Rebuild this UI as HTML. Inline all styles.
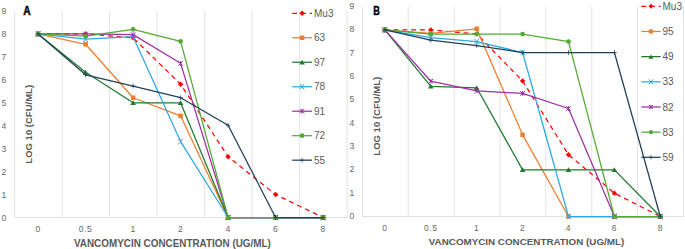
<!DOCTYPE html>
<html><head><meta charset="utf-8"><style>
html,body{margin:0;padding:0;background:#fff;width:685px;height:249px;overflow:hidden}
svg{display:block}
text{font-family:"Liberation Sans", sans-serif}
</style></head><body>
<svg width="685" height="249" viewBox="0 0 685 249">
<rect width="685" height="249" fill="#fff"/>
<line x1="14.70" y1="11.00" x2="14.70" y2="217.50" stroke="#E3E3E3" stroke-width="1"/>
<line x1="62.20" y1="11.00" x2="62.20" y2="217.50" stroke="#E3E3E3" stroke-width="1"/>
<line x1="109.70" y1="11.00" x2="109.70" y2="217.50" stroke="#E3E3E3" stroke-width="1"/>
<line x1="157.20" y1="11.00" x2="157.20" y2="217.50" stroke="#E3E3E3" stroke-width="1"/>
<line x1="204.70" y1="11.00" x2="204.70" y2="217.50" stroke="#E3E3E3" stroke-width="1"/>
<line x1="252.20" y1="11.00" x2="252.20" y2="217.50" stroke="#E3E3E3" stroke-width="1"/>
<line x1="299.70" y1="11.00" x2="299.70" y2="217.50" stroke="#E3E3E3" stroke-width="1"/>
<line x1="347.20" y1="11.00" x2="347.20" y2="217.50" stroke="#E3E3E3" stroke-width="1"/>
<line x1="14.20" y1="217.50" x2="347.70" y2="217.50" stroke="#E3E3E3" stroke-width="1"/>
<text x="3.80" y="220.50" text-anchor="middle" font-size="8.5" fill="#666666">0</text>
<text x="3.80" y="197.56" text-anchor="middle" font-size="8.5" fill="#666666">1</text>
<text x="3.80" y="174.61" text-anchor="middle" font-size="8.5" fill="#666666">2</text>
<text x="3.80" y="151.67" text-anchor="middle" font-size="8.5" fill="#666666">3</text>
<text x="3.80" y="128.72" text-anchor="middle" font-size="8.5" fill="#666666">4</text>
<text x="3.80" y="105.78" text-anchor="middle" font-size="8.5" fill="#666666">5</text>
<text x="3.80" y="82.83" text-anchor="middle" font-size="8.5" fill="#666666">6</text>
<text x="3.80" y="59.89" text-anchor="middle" font-size="8.5" fill="#666666">7</text>
<text x="3.80" y="36.94" text-anchor="middle" font-size="8.5" fill="#666666">8</text>
<text x="3.80" y="14.00" text-anchor="middle" font-size="8.5" fill="#666666">9</text>
<text x="38.10" y="231.50" text-anchor="middle" font-size="8.5" fill="#666666" letter-spacing="0.6">0</text>
<text x="85.60" y="231.50" text-anchor="middle" font-size="8.5" fill="#666666" letter-spacing="0.6">0.5</text>
<text x="133.10" y="231.50" text-anchor="middle" font-size="8.5" fill="#666666" letter-spacing="0.6">1</text>
<text x="180.60" y="231.50" text-anchor="middle" font-size="8.5" fill="#666666" letter-spacing="0.6">2</text>
<text x="228.10" y="231.50" text-anchor="middle" font-size="8.5" fill="#666666" letter-spacing="0.6">4</text>
<text x="275.60" y="231.50" text-anchor="middle" font-size="8.5" fill="#666666" letter-spacing="0.6">6</text>
<text x="323.10" y="231.50" text-anchor="middle" font-size="8.5" fill="#666666" letter-spacing="0.6">8</text>
<text x="172.40" y="246.80" text-anchor="middle" font-size="10" font-weight="bold" fill="#595959" textLength="197" lengthAdjust="spacingAndGlyphs">VANCOMYCIN CONCENTRATION (UG/ML)</text>
<text transform="translate(31.90,124.30) rotate(-90)" text-anchor="middle" font-size="9.2" font-weight="bold" fill="#595959" textLength="78.7" lengthAdjust="spacingAndGlyphs">LOG 10 (CFU/ML)</text>
<text x="23.30" y="14.80" font-size="12.5" font-weight="bold" fill="#000" stroke="#000" stroke-width="0.45" textLength="7.4" lengthAdjust="spacingAndGlyphs">A</text>
<polyline points="38.10,33.94 85.60,33.94 133.10,37.84 180.60,84.19 228.10,156.70 275.60,194.56 323.10,217.50" fill="none" stroke="#FF0000" stroke-width="1.25" stroke-linejoin="round" stroke-dasharray="4.8,3.96"/>
<path d="M38.10 31.24L40.80 33.94L38.10 36.64L35.40 33.94Z" fill="#FF0000"/>
<path d="M85.60 31.24L88.30 33.94L85.60 36.64L82.90 33.94Z" fill="#FF0000"/>
<path d="M133.10 35.14L135.80 37.84L133.10 40.55L130.40 37.84Z" fill="#FF0000"/>
<path d="M180.60 81.49L183.30 84.19L180.60 86.89L177.90 84.19Z" fill="#FF0000"/>
<path d="M228.10 154.00L230.80 156.70L228.10 159.40L225.40 156.70Z" fill="#FF0000"/>
<path d="M275.60 191.86L278.30 194.56L275.60 197.26L272.90 194.56Z" fill="#FF0000"/>
<path d="M323.10 214.80L325.80 217.50L323.10 220.20L320.40 217.50Z" fill="#FF0000"/>
<polyline points="38.10,33.94 85.60,44.27 133.10,97.73 180.60,115.86 228.10,217.50 275.60,217.50 323.10,217.50" fill="none" stroke="#ED7D31" stroke-width="1.25" stroke-linejoin="round"/>
<rect x="35.85" y="31.69" width="4.50" height="4.50" fill="#ED7D31"/>
<rect x="83.35" y="42.02" width="4.50" height="4.50" fill="#ED7D31"/>
<rect x="130.85" y="95.48" width="4.50" height="4.50" fill="#ED7D31"/>
<rect x="178.35" y="113.61" width="4.50" height="4.50" fill="#ED7D31"/>
<rect x="225.85" y="215.25" width="4.50" height="4.50" fill="#ED7D31"/>
<rect x="273.35" y="215.25" width="4.50" height="4.50" fill="#ED7D31"/>
<rect x="320.85" y="215.25" width="4.50" height="4.50" fill="#ED7D31"/>
<polyline points="38.10,33.94 85.60,72.26 133.10,102.78 180.60,102.78 228.10,217.50 275.60,217.50 323.10,217.50" fill="none" stroke="#1F7A2C" stroke-width="1.25" stroke-linejoin="round"/>
<path d="M38.10 31.44L40.85 36.19L35.35 36.19Z" fill="#1F7A2C"/>
<path d="M85.60 69.76L88.35 74.51L82.85 74.51Z" fill="#1F7A2C"/>
<path d="M133.10 100.28L135.85 105.03L130.35 105.03Z" fill="#1F7A2C"/>
<path d="M180.60 100.28L183.35 105.03L177.85 105.03Z" fill="#1F7A2C"/>
<path d="M228.10 215.00L230.85 219.75L225.35 219.75Z" fill="#1F7A2C"/>
<path d="M275.60 215.00L278.35 219.75L272.85 219.75Z" fill="#1F7A2C"/>
<path d="M323.10 215.00L325.85 219.75L320.35 219.75Z" fill="#1F7A2C"/>
<polyline points="38.10,33.94 85.60,39.22 133.10,36.70 180.60,141.55 228.10,217.50 275.60,217.50 323.10,217.50" fill="none" stroke="#2CA9E1" stroke-width="1.25" stroke-linejoin="round"/>
<path d="M35.90 31.19L40.30 36.69M40.30 31.19L35.90 36.69" stroke="#2CA9E1" stroke-width="1" fill="none"/>
<path d="M83.40 36.47L87.80 41.97M87.80 36.47L83.40 41.97" stroke="#2CA9E1" stroke-width="1" fill="none"/>
<path d="M130.90 33.95L135.30 39.45M135.30 33.95L130.90 39.45" stroke="#2CA9E1" stroke-width="1" fill="none"/>
<path d="M178.40 138.80L182.80 144.30M182.80 138.80L178.40 144.30" stroke="#2CA9E1" stroke-width="1" fill="none"/>
<path d="M225.90 214.75L230.30 220.25M230.30 214.75L225.90 220.25" stroke="#2CA9E1" stroke-width="1" fill="none"/>
<path d="M273.40 214.75L277.80 220.25M277.80 214.75L273.40 220.25" stroke="#2CA9E1" stroke-width="1" fill="none"/>
<path d="M320.90 214.75L325.30 220.25M325.30 214.75L320.90 220.25" stroke="#2CA9E1" stroke-width="1" fill="none"/>
<polyline points="38.10,33.94 85.60,33.94 133.10,34.63 180.60,63.31 228.10,217.50 275.60,217.50 323.10,217.50" fill="none" stroke="#9E2FA3" stroke-width="1.25" stroke-linejoin="round"/>
<path d="M35.80 31.64L40.40 36.24M40.40 31.64L35.80 36.24M38.10 31.64L38.10 36.24" stroke="#9E2FA3" stroke-width="1" fill="none"/>
<path d="M83.30 31.64L87.90 36.24M87.90 31.64L83.30 36.24M85.60 31.64L85.60 36.24" stroke="#9E2FA3" stroke-width="1" fill="none"/>
<path d="M130.80 32.33L135.40 36.93M135.40 32.33L130.80 36.93M133.10 32.33L133.10 36.93" stroke="#9E2FA3" stroke-width="1" fill="none"/>
<path d="M178.30 61.01L182.90 65.61M182.90 61.01L178.30 65.61M180.60 61.01L180.60 65.61" stroke="#9E2FA3" stroke-width="1" fill="none"/>
<path d="M225.80 215.20L230.40 219.80M230.40 215.20L225.80 219.80M228.10 215.20L228.10 219.80" stroke="#9E2FA3" stroke-width="1" fill="none"/>
<path d="M273.30 215.20L277.90 219.80M277.90 215.20L273.30 219.80M275.60 215.20L275.60 219.80" stroke="#9E2FA3" stroke-width="1" fill="none"/>
<path d="M320.80 215.20L325.40 219.80M325.40 215.20L320.80 219.80M323.10 215.20L323.10 219.80" stroke="#9E2FA3" stroke-width="1" fill="none"/>
<polyline points="38.10,33.94 85.60,36.24 133.10,29.36 180.60,41.29 228.10,217.50 275.60,217.50 323.10,217.50" fill="none" stroke="#52AA35" stroke-width="1.25" stroke-linejoin="round"/>
<circle cx="38.10" cy="33.94" r="2.35" fill="#52AA35"/>
<circle cx="85.60" cy="36.24" r="2.35" fill="#52AA35"/>
<circle cx="133.10" cy="29.36" r="2.35" fill="#52AA35"/>
<circle cx="180.60" cy="41.29" r="2.35" fill="#52AA35"/>
<circle cx="228.10" cy="217.50" r="2.35" fill="#52AA35"/>
<circle cx="275.60" cy="217.50" r="2.35" fill="#52AA35"/>
<circle cx="323.10" cy="217.50" r="2.35" fill="#52AA35"/>
<polyline points="38.10,33.94 85.60,74.79 133.10,86.03 180.60,97.73 228.10,125.26 275.60,217.50 323.10,217.50" fill="none" stroke="#1F3F5A" stroke-width="1.25" stroke-linejoin="round"/>
<path d="M38.10 31.54L38.10 36.34M35.70 33.94L40.50 33.94" stroke="#1F3F5A" stroke-width="1" stroke-opacity="0.75" fill="none"/>
<path d="M85.60 72.39L85.60 77.19M83.20 74.79L88.00 74.79" stroke="#1F3F5A" stroke-width="1" stroke-opacity="0.75" fill="none"/>
<path d="M133.10 83.63L133.10 88.43M130.70 86.03L135.50 86.03" stroke="#1F3F5A" stroke-width="1" stroke-opacity="0.75" fill="none"/>
<path d="M180.60 95.33L180.60 100.13M178.20 97.73L183.00 97.73" stroke="#1F3F5A" stroke-width="1" stroke-opacity="0.75" fill="none"/>
<path d="M228.10 122.86L228.10 127.66M225.70 125.26L230.50 125.26" stroke="#1F3F5A" stroke-width="1" stroke-opacity="0.75" fill="none"/>
<path d="M275.60 215.10L275.60 219.90M273.20 217.50L278.00 217.50" stroke="#1F3F5A" stroke-width="1" stroke-opacity="0.75" fill="none"/>
<path d="M323.10 215.10L323.10 219.90M320.70 217.50L325.50 217.50" stroke="#1F3F5A" stroke-width="1" stroke-opacity="0.75" fill="none"/>
<line x1="292.20" y1="13.30" x2="312.00" y2="13.30" stroke="#FF0000" stroke-width="1.25" stroke-dasharray="4.8,3.96"/>
<path d="M302.10 10.60L304.80 13.30L302.10 16.00L299.40 13.30Z" fill="#FF0000"/>
<text x="314.00" y="16.90" font-size="10" fill="#595959">Mu3</text>
<line x1="292.20" y1="37.78" x2="312.00" y2="37.78" stroke="#ED7D31" stroke-width="1.25"/>
<rect x="299.85" y="35.53" width="4.50" height="4.50" fill="#ED7D31"/>
<text x="314.00" y="41.38" font-size="10" fill="#595959">63</text>
<line x1="292.20" y1="62.26" x2="312.00" y2="62.26" stroke="#1F7A2C" stroke-width="1.25"/>
<path d="M302.10 59.76L304.85 64.51L299.35 64.51Z" fill="#1F7A2C"/>
<text x="314.00" y="65.86" font-size="10" fill="#595959">97</text>
<line x1="292.20" y1="86.74" x2="312.00" y2="86.74" stroke="#2CA9E1" stroke-width="1.25"/>
<path d="M299.90 83.99L304.30 89.49M304.30 83.99L299.90 89.49" stroke="#2CA9E1" stroke-width="1" fill="none"/>
<text x="314.00" y="90.34" font-size="10" fill="#595959">78</text>
<line x1="292.20" y1="111.22" x2="312.00" y2="111.22" stroke="#9E2FA3" stroke-width="1.25"/>
<path d="M299.80 108.92L304.40 113.52M304.40 108.92L299.80 113.52M302.10 108.92L302.10 113.52" stroke="#9E2FA3" stroke-width="1" fill="none"/>
<text x="314.00" y="114.82" font-size="10" fill="#595959">91</text>
<line x1="292.20" y1="135.70" x2="312.00" y2="135.70" stroke="#52AA35" stroke-width="1.25"/>
<circle cx="302.10" cy="135.70" r="2.35" fill="#52AA35"/>
<text x="314.00" y="139.30" font-size="10" fill="#595959">72</text>
<line x1="292.20" y1="160.18" x2="312.00" y2="160.18" stroke="#1F3F5A" stroke-width="1.25"/>
<path d="M302.10 157.78L302.10 162.58M299.70 160.18L304.50 160.18" stroke="#1F3F5A" stroke-width="1" stroke-opacity="0.75" fill="none"/>
<text x="314.00" y="163.78" font-size="10" fill="#595959">55</text>
<line x1="362.30" y1="6.60" x2="362.30" y2="216.50" stroke="#E3E3E3" stroke-width="1"/>
<line x1="408.20" y1="6.60" x2="408.20" y2="216.50" stroke="#E3E3E3" stroke-width="1"/>
<line x1="454.10" y1="6.60" x2="454.10" y2="216.50" stroke="#E3E3E3" stroke-width="1"/>
<line x1="500.00" y1="6.60" x2="500.00" y2="216.50" stroke="#E3E3E3" stroke-width="1"/>
<line x1="545.90" y1="6.60" x2="545.90" y2="216.50" stroke="#E3E3E3" stroke-width="1"/>
<line x1="591.80" y1="6.60" x2="591.80" y2="216.50" stroke="#E3E3E3" stroke-width="1"/>
<line x1="637.70" y1="6.60" x2="637.70" y2="216.50" stroke="#E3E3E3" stroke-width="1"/>
<line x1="683.60" y1="6.60" x2="683.60" y2="216.50" stroke="#E3E3E3" stroke-width="1"/>
<line x1="361.80" y1="216.50" x2="684.10" y2="216.50" stroke="#E3E3E3" stroke-width="1"/>
<text x="351.80" y="218.90" text-anchor="middle" font-size="8.5" fill="#666666">0</text>
<text x="351.80" y="195.58" text-anchor="middle" font-size="8.5" fill="#666666">1</text>
<text x="351.80" y="172.26" text-anchor="middle" font-size="8.5" fill="#666666">2</text>
<text x="351.80" y="148.93" text-anchor="middle" font-size="8.5" fill="#666666">3</text>
<text x="351.80" y="125.61" text-anchor="middle" font-size="8.5" fill="#666666">4</text>
<text x="351.80" y="102.29" text-anchor="middle" font-size="8.5" fill="#666666">5</text>
<text x="351.80" y="78.97" text-anchor="middle" font-size="8.5" fill="#666666">6</text>
<text x="351.80" y="55.64" text-anchor="middle" font-size="8.5" fill="#666666">7</text>
<text x="351.80" y="32.32" text-anchor="middle" font-size="8.5" fill="#666666">8</text>
<text x="351.80" y="9.00" text-anchor="middle" font-size="8.5" fill="#666666">9</text>
<text x="384.90" y="231.00" text-anchor="middle" font-size="8.5" fill="#666666" letter-spacing="0.6">0</text>
<text x="430.80" y="231.00" text-anchor="middle" font-size="8.5" fill="#666666" letter-spacing="0.6">0.5</text>
<text x="476.70" y="231.00" text-anchor="middle" font-size="8.5" fill="#666666" letter-spacing="0.6">1</text>
<text x="522.60" y="231.00" text-anchor="middle" font-size="8.5" fill="#666666" letter-spacing="0.6">2</text>
<text x="568.50" y="231.00" text-anchor="middle" font-size="8.5" fill="#666666" letter-spacing="0.6">4</text>
<text x="614.40" y="231.00" text-anchor="middle" font-size="8.5" fill="#666666" letter-spacing="0.6">6</text>
<text x="660.30" y="231.00" text-anchor="middle" font-size="8.5" fill="#666666" letter-spacing="0.6">8</text>
<text x="526.50" y="245.30" text-anchor="middle" font-size="9.6" font-weight="bold" fill="#595959" textLength="195.4" lengthAdjust="spacingAndGlyphs">VANCOMYCIN CONCENTRATION (UG/ML)</text>
<text transform="translate(380.20,116.20) rotate(-90)" text-anchor="middle" font-size="9.2" font-weight="bold" fill="#595959" textLength="79" lengthAdjust="spacingAndGlyphs">LOG 10 (CFU/ML)</text>
<text x="373.30" y="14.80" font-size="12.5" font-weight="bold" fill="#000" stroke="#000" stroke-width="0.45" textLength="6.6" lengthAdjust="spacingAndGlyphs">B</text>
<polyline points="384.90,29.92 430.80,29.92 476.70,33.89 522.60,81.00 568.50,154.70 614.40,193.18 660.30,216.50" fill="none" stroke="#FF0000" stroke-width="1.25" stroke-linejoin="round" stroke-dasharray="4.8,3.96"/>
<path d="M384.90 27.22L387.60 29.92L384.90 32.62L382.20 29.92Z" fill="#FF0000"/>
<path d="M430.80 27.22L433.50 29.92L430.80 32.62L428.10 29.92Z" fill="#FF0000"/>
<path d="M476.70 31.19L479.40 33.89L476.70 36.59L474.00 33.89Z" fill="#FF0000"/>
<path d="M522.60 78.30L525.30 81.00L522.60 83.70L519.90 81.00Z" fill="#FF0000"/>
<path d="M568.50 152.00L571.20 154.70L568.50 157.40L565.80 154.70Z" fill="#FF0000"/>
<path d="M614.40 190.48L617.10 193.18L614.40 195.88L611.70 193.18Z" fill="#FF0000"/>
<path d="M660.30 213.80L663.00 216.50L660.30 219.20L657.60 216.50Z" fill="#FF0000"/>
<polyline points="384.90,29.92 430.80,33.42 476.70,28.76 522.60,134.87 568.50,216.50 614.40,216.50 660.30,216.50" fill="none" stroke="#ED7D31" stroke-width="1.25" stroke-linejoin="round"/>
<rect x="382.65" y="27.67" width="4.50" height="4.50" fill="#ED7D31"/>
<rect x="428.55" y="31.17" width="4.50" height="4.50" fill="#ED7D31"/>
<rect x="474.45" y="26.51" width="4.50" height="4.50" fill="#ED7D31"/>
<rect x="520.35" y="132.62" width="4.50" height="4.50" fill="#ED7D31"/>
<rect x="566.25" y="214.25" width="4.50" height="4.50" fill="#ED7D31"/>
<rect x="612.15" y="214.25" width="4.50" height="4.50" fill="#ED7D31"/>
<rect x="658.05" y="214.25" width="4.50" height="4.50" fill="#ED7D31"/>
<polyline points="384.90,29.92 430.80,86.36 476.70,87.76 522.60,169.86 568.50,169.86 614.40,169.86 660.30,216.50" fill="none" stroke="#1F7A2C" stroke-width="1.25" stroke-linejoin="round"/>
<path d="M384.90 27.42L387.65 32.17L382.15 32.17Z" fill="#1F7A2C"/>
<path d="M430.80 83.86L433.55 88.61L428.05 88.61Z" fill="#1F7A2C"/>
<path d="M476.70 85.26L479.45 90.01L473.95 90.01Z" fill="#1F7A2C"/>
<path d="M522.60 167.36L525.35 172.11L519.85 172.11Z" fill="#1F7A2C"/>
<path d="M568.50 167.36L571.25 172.11L565.75 172.11Z" fill="#1F7A2C"/>
<path d="M614.40 167.36L617.15 172.11L611.65 172.11Z" fill="#1F7A2C"/>
<path d="M660.30 214.00L663.05 218.75L657.55 218.75Z" fill="#1F7A2C"/>
<polyline points="384.90,29.92 430.80,37.62 476.70,41.58 522.60,52.54 568.50,216.50 614.40,216.50 660.30,216.50" fill="none" stroke="#2CA9E1" stroke-width="1.25" stroke-linejoin="round"/>
<path d="M382.70 27.17L387.10 32.67M387.10 27.17L382.70 32.67" stroke="#2CA9E1" stroke-width="1" fill="none"/>
<path d="M428.60 34.87L433.00 40.37M433.00 34.87L428.60 40.37" stroke="#2CA9E1" stroke-width="1" fill="none"/>
<path d="M474.50 38.83L478.90 44.33M478.90 38.83L474.50 44.33" stroke="#2CA9E1" stroke-width="1" fill="none"/>
<path d="M520.40 49.79L524.80 55.29M524.80 49.79L520.40 55.29" stroke="#2CA9E1" stroke-width="1" fill="none"/>
<path d="M566.30 213.75L570.70 219.25M570.70 213.75L566.30 219.25" stroke="#2CA9E1" stroke-width="1" fill="none"/>
<path d="M612.20 213.75L616.60 219.25M616.60 213.75L612.20 219.25" stroke="#2CA9E1" stroke-width="1" fill="none"/>
<path d="M658.10 213.75L662.50 219.25M662.50 213.75L658.10 219.25" stroke="#2CA9E1" stroke-width="1" fill="none"/>
<polyline points="384.90,29.92 430.80,81.23 476.70,90.79 522.60,93.36 568.50,108.52 614.40,216.50 660.30,216.50" fill="none" stroke="#9E2FA3" stroke-width="1.25" stroke-linejoin="round"/>
<path d="M382.60 27.62L387.20 32.22M387.20 27.62L382.60 32.22M384.90 27.62L384.90 32.22" stroke="#9E2FA3" stroke-width="1" fill="none"/>
<path d="M428.50 78.93L433.10 83.53M433.10 78.93L428.50 83.53M430.80 78.93L430.80 83.53" stroke="#9E2FA3" stroke-width="1" fill="none"/>
<path d="M474.40 88.49L479.00 93.09M479.00 88.49L474.40 93.09M476.70 88.49L476.70 93.09" stroke="#9E2FA3" stroke-width="1" fill="none"/>
<path d="M520.30 91.06L524.90 95.66M524.90 91.06L520.30 95.66M522.60 91.06L522.60 95.66" stroke="#9E2FA3" stroke-width="1" fill="none"/>
<path d="M566.20 106.22L570.80 110.82M570.80 106.22L566.20 110.82M568.50 106.22L568.50 110.82" stroke="#9E2FA3" stroke-width="1" fill="none"/>
<path d="M612.10 214.20L616.70 218.80M616.70 214.20L612.10 218.80M614.40 214.20L614.40 218.80" stroke="#9E2FA3" stroke-width="1" fill="none"/>
<path d="M658.00 214.20L662.60 218.80M662.60 214.20L658.00 218.80M660.30 214.20L660.30 218.80" stroke="#9E2FA3" stroke-width="1" fill="none"/>
<polyline points="384.90,29.92 430.80,34.12 476.70,34.12 522.60,34.12 568.50,41.58 614.40,216.50 660.30,216.50" fill="none" stroke="#52AA35" stroke-width="1.25" stroke-linejoin="round"/>
<circle cx="384.90" cy="29.92" r="2.35" fill="#52AA35"/>
<circle cx="430.80" cy="34.12" r="2.35" fill="#52AA35"/>
<circle cx="476.70" cy="34.12" r="2.35" fill="#52AA35"/>
<circle cx="522.60" cy="34.12" r="2.35" fill="#52AA35"/>
<circle cx="568.50" cy="41.58" r="2.35" fill="#52AA35"/>
<circle cx="614.40" cy="216.50" r="2.35" fill="#52AA35"/>
<circle cx="660.30" cy="216.50" r="2.35" fill="#52AA35"/>
<polyline points="384.90,29.92 430.80,40.18 476.70,45.55 522.60,52.54 568.50,52.54 614.40,52.54 660.30,216.50" fill="none" stroke="#1F3F5A" stroke-width="1.25" stroke-linejoin="round"/>
<path d="M384.90 27.52L384.90 32.32M382.50 29.92L387.30 29.92" stroke="#1F3F5A" stroke-width="1" stroke-opacity="0.75" fill="none"/>
<path d="M430.80 37.78L430.80 42.58M428.40 40.18L433.20 40.18" stroke="#1F3F5A" stroke-width="1" stroke-opacity="0.75" fill="none"/>
<path d="M476.70 43.15L476.70 47.95M474.30 45.55L479.10 45.55" stroke="#1F3F5A" stroke-width="1" stroke-opacity="0.75" fill="none"/>
<path d="M522.60 50.14L522.60 54.94M520.20 52.54L525.00 52.54" stroke="#1F3F5A" stroke-width="1" stroke-opacity="0.75" fill="none"/>
<path d="M568.50 50.14L568.50 54.94M566.10 52.54L570.90 52.54" stroke="#1F3F5A" stroke-width="1" stroke-opacity="0.75" fill="none"/>
<path d="M614.40 50.14L614.40 54.94M612.00 52.54L616.80 52.54" stroke="#1F3F5A" stroke-width="1" stroke-opacity="0.75" fill="none"/>
<path d="M660.30 214.10L660.30 218.90M657.90 216.50L662.70 216.50" stroke="#1F3F5A" stroke-width="1" stroke-opacity="0.75" fill="none"/>
<line x1="641.30" y1="6.30" x2="660.60" y2="6.30" stroke="#FF0000" stroke-width="1.25" stroke-dasharray="4.8,3.96"/>
<path d="M650.95 3.87L653.38 6.30L650.95 8.73L648.52 6.30Z" fill="#FF0000"/>
<text x="662.50" y="9.90" font-size="10" fill="#595959">Mu3</text>
<line x1="641.30" y1="31.47" x2="660.60" y2="31.47" stroke="#ED7D31" stroke-width="1.25"/>
<rect x="648.93" y="29.45" width="4.05" height="4.05" fill="#ED7D31"/>
<text x="662.50" y="35.07" font-size="10" fill="#595959">95</text>
<line x1="641.30" y1="56.64" x2="660.60" y2="56.64" stroke="#1F7A2C" stroke-width="1.25"/>
<path d="M650.95 54.39L653.43 58.66L648.48 58.66Z" fill="#1F7A2C"/>
<text x="662.50" y="60.24" font-size="10" fill="#595959">49</text>
<line x1="641.30" y1="81.81" x2="660.60" y2="81.81" stroke="#2CA9E1" stroke-width="1.25"/>
<path d="M648.97 79.34L652.93 84.28M652.93 79.34L648.97 84.28" stroke="#2CA9E1" stroke-width="1" fill="none"/>
<text x="662.50" y="85.41" font-size="10" fill="#595959">33</text>
<line x1="641.30" y1="106.98" x2="660.60" y2="106.98" stroke="#9E2FA3" stroke-width="1.25"/>
<path d="M648.88 104.91L653.02 109.05M653.02 104.91L648.88 109.05M650.95 104.91L650.95 109.05" stroke="#9E2FA3" stroke-width="1" fill="none"/>
<text x="662.50" y="110.58" font-size="10" fill="#595959">82</text>
<line x1="641.30" y1="132.15" x2="660.60" y2="132.15" stroke="#52AA35" stroke-width="1.25"/>
<circle cx="650.95" cy="132.15" r="2.12" fill="#52AA35"/>
<text x="662.50" y="135.75" font-size="10" fill="#595959">83</text>
<line x1="641.30" y1="157.32" x2="660.60" y2="157.32" stroke="#1F3F5A" stroke-width="1.25"/>
<path d="M650.95 155.16L650.95 159.48M648.79 157.32L653.11 157.32" stroke="#1F3F5A" stroke-width="1" stroke-opacity="0.75" fill="none"/>
<text x="662.50" y="160.92" font-size="10" fill="#595959">59</text>
</svg>
</body></html>
